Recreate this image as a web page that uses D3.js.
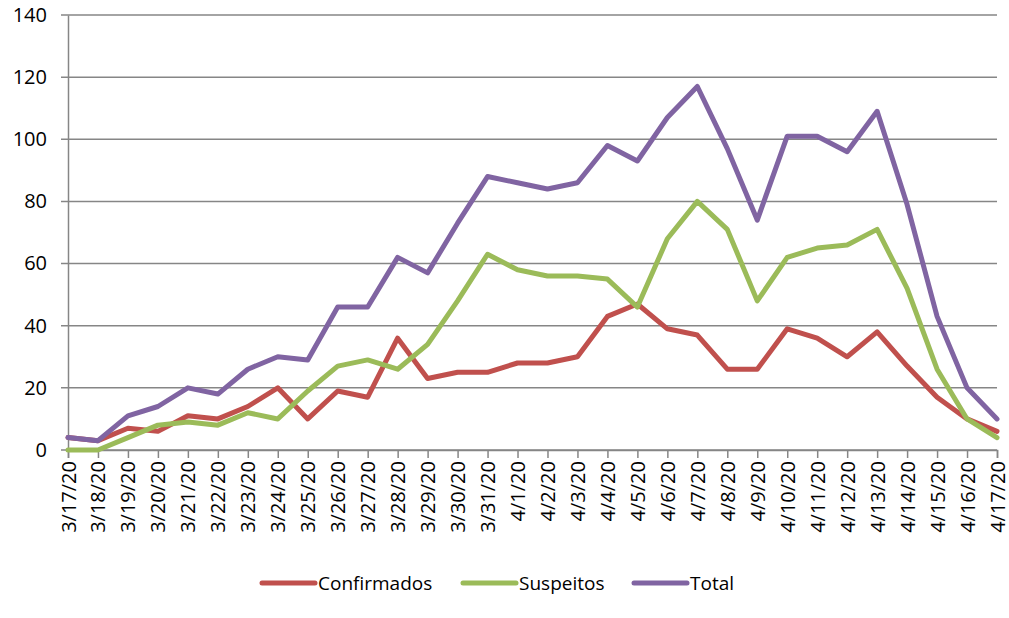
<!DOCTYPE html>
<html>
<head>
<meta charset="utf-8">
<script src="https://cdn.jsdelivr.net/npm/d3@7"></script>
<style>
  html, body { margin: 0; padding: 0; background: #fff; }
  svg { display: block; }
  text { font-family: "Open Sans", "Liberation Sans", sans-serif; fill: #000; }
</style>
</head>
<body>
<svg id="chart" width="1009" height="618"></svg>
<script>
const dates = ["3/17/20","3/18/20","3/19/20","3/20/20","3/21/20","3/22/20","3/23/20","3/24/20","3/25/20","3/26/20","3/27/20","3/28/20","3/29/20","3/30/20","3/31/20","4/1/20","4/2/20","4/3/20","4/4/20","4/5/20","4/6/20","4/7/20","4/8/20","4/9/20","4/10/20","4/11/20","4/12/20","4/13/20","4/14/20","4/15/20","4/16/20","4/17/20"];
const confirmados = [4,3,7,6,11,10,14,20,10,19,17,36,23,25,25,28,28,30,43,47,39,37,26,26,39,36,30,38,27,17,10,6];
const suspeitos = [0,0,4,8,9,8,12,10,19,27,29,26,34,48,63,58,56,56,55,46,68,80,71,48,62,65,66,71,52,26,10,4];
const total = [4,3,11,14,20,18,26,30,29,46,46,62,57,73,88,86,84,86,98,93,107,117,97,74,101,101,96,109,79,43,20,10];
const yTicks = [0,20,40,60,80,100,120,140];
const seriesNames = ["Confirmados","Suspeitos","Total"];
const seriesColors = ["#C0504D","#9BBB59","#8064A2"];

const svg = d3.select("#chart");
const pLeft = 68, pRight = 997, pTop = 15, pBottom = 450;

const x = d3.scalePoint().domain(dates).range([pLeft, pRight]);
const y = d3.scaleLinear().domain([0, 140]).range([pBottom, pTop]);

// gridlines
svg.append("g")
  .selectAll("line").data(yTicks).join("line")
  .attr("x1", pLeft - 7).attr("x2", pRight)
  .attr("y1", d => y(d)).attr("y2", d => y(d))
  .attr("stroke", "#868686").attr("stroke-width", 1.5);

// y axis
const yAxis = svg.append("g").attr("transform", `translate(${pLeft},0)`)
  .call(d3.axisLeft(y).tickValues(yTicks).tickSize(0).tickPadding(21));
yAxis.select(".domain").attr("stroke", "#868686").attr("stroke-width", 1.5);
yAxis.selectAll("text").style("font-size", "20px").style("font-family", "'Open Sans', sans-serif").attr("fill", "#000");

// x axis
const xAxis = svg.append("g").attr("transform", `translate(0,${pBottom})`)
  .call(d3.axisBottom(x).tickSize(8).tickPadding(6));
xAxis.select(".domain").attr("stroke", "#868686").attr("stroke-width", 1.5);
xAxis.selectAll(".tick line").attr("stroke", "#868686").attr("stroke-width", 1.5);
xAxis.selectAll("text")
  .style("font-size", "20px").style("font-family", "'Open Sans', sans-serif").attr("fill", "#000")
  .attr("transform", "rotate(-90)")
  .attr("text-anchor", "end")
  .attr("x", -11).attr("y", 0).attr("dy", "0.35em");

// lines
const line = d3.line().x((d, i) => x(dates[i])).y(d => y(d));
const allSeries = [confirmados, suspeitos, total];
svg.append("g").selectAll("path").data(allSeries).join("path")
  .attr("d", d => line(d))
  .attr("fill", "none")
  .attr("stroke", (d, i) => seriesColors[i])
  .attr("stroke-width", 5)
  .attr("stroke-linejoin", "round")
  .attr("stroke-linecap", "round");

// legend
const legendX = [262, 463, 634];
const legend = svg.append("g");
seriesNames.forEach((name, i) => {
  legend.append("line")
    .attr("x1", legendX[i]).attr("x2", legendX[i] + 53)
    .attr("y1", 583).attr("y2", 583)
    .attr("stroke", seriesColors[i]).attr("stroke-width", 5)
    .attr("stroke-linecap", "round");
  legend.append("text")
    .attr("x", legendX[i] + 56).attr("y", 583).attr("dy", "0.35em")
    .style("font-size", "19px")
    .text(name);
});
</script>
</body>
</html>
